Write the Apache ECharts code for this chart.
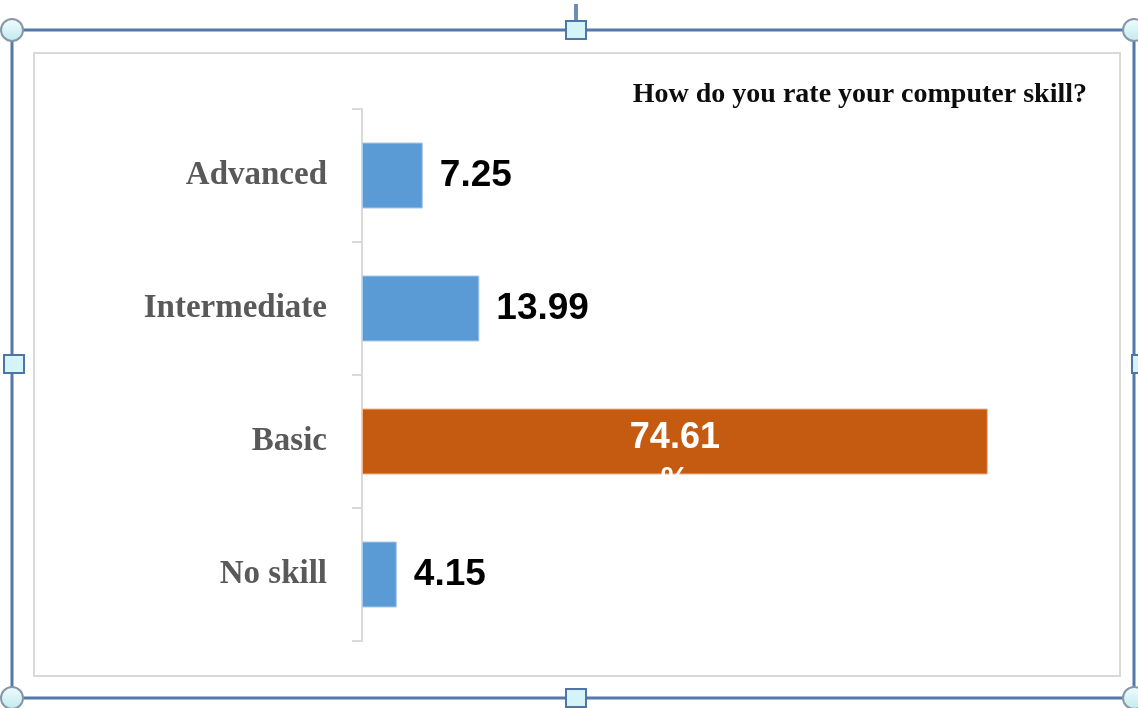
<!DOCTYPE html>
<html>
<head>
<meta charset="utf-8">
<script src="https://cdn.jsdelivr.net/npm/echarts@6/dist/echarts.min.js"></script>
<style>
  html, body { margin: 0; padding: 0; background: #ffffff; }
  #chart { width: 1138px; height: 708px; }
</style>
</head>
<body>
<div id="chart"></div>
<script>
// Survey answers: self-rated computer skill (percent of respondents)
const categories = ['Advanced', 'Intermediate', 'Basic', 'No skill'];
const shares = [7.25, 13.99, 74.61, 4.15];
const highlighted = 'Basic';
const titleText = 'How do you rate your computer skill?';

const BLUE = '#5b9bd5';
const ORANGE = '#c55a11';
const BAR_W = 66;
const SANS = 'Liberation Sans, Arial, sans-serif';
const SERIF = 'Liberation Serif, Times New Roman, serif';

const seriesData = categories.map((c, i) => {
  const item = { value: shares[i], name: c };
  if (c === highlighted) {
    item.itemStyle = { color: ORANGE, borderColor: '#f2b48c', borderWidth: 1 };
    item.label = {
      position: 'inside',
      offset: [0, 21],
      formatter: p => '{a|' + p.value.toFixed(2) + '}\n{b|%}',
      rich: {
        a: { fontSize: 36, fontWeight: 'bold', color: '#ffffff', fontFamily: SANS, lineHeight: 36 },
        b: { fontSize: 32, fontWeight: 'bold', color: '#ffffff', fontFamily: SANS, lineHeight: 48 }
      }
    };
  }
  return item;
});

// Selection frame drawn round the embedded chart
function handleCircle(cx, cy) {
  return {
    type: 'circle', z: 200,
    shape: { cx: cx, cy: cy, r: 11 },
    style: {
      fill: new echarts.graphic.LinearGradient(0, 0, 0, 1, [
        { offset: 0, color: '#f2fdfe' }, { offset: 1, color: '#bfe9ee' }
      ]),
      stroke: '#8797a8', lineWidth: 2
    }
  };
}
function handleSquare(cx, cy) {
  return {
    type: 'rect', z: 200,
    shape: { x: cx - 10, y: cy - 9, width: 20, height: 18 },
    style: { fill: '#d4f4f8', stroke: '#4f75a5', lineWidth: 2 }
  };
}

const frame = [
  { type: 'rect', z: 1, shape: { x: 34, y: 53, width: 1086, height: 623 },
    style: { fill: 'none', stroke: '#d9d9d9', lineWidth: 2 } },
  { type: 'rect', z: 150, shape: { x: 12, y: 30, width: 1122, height: 668 },
    style: { fill: 'none', stroke: '#5479a9', lineWidth: 3 } },
  { type: 'line', z: 150, shape: { x1: 576, y1: 4, x2: 576, y2: 22 },
    style: { stroke: '#6f8cb3', lineWidth: 4 } },
  handleCircle(12, 30), handleCircle(1134, 30),
  handleCircle(12, 698), handleCircle(1134, 698),
  handleSquare(576, 30), handleSquare(576, 698),
  handleSquare(14, 364), handleSquare(1142, 364)
];

const chart = echarts.init(document.getElementById('chart'), null, { renderer: 'canvas' });

chart.setOption({
  animation: false,
  backgroundColor: '#ffffff',
  title: {
    text: titleText,
    right: 46,
    top: 76,
    textStyle: { fontFamily: SERIF, fontWeight: 'bold', fontSize: 28, color: '#0d0d0d' }
  },
  grid: { left: 362, right: 105, top: 109, bottom: 67, containLabel: false },
  xAxis: { type: 'value', min: 0, max: 80, show: false },
  yAxis: {
    type: 'category',
    data: categories,
    inverse: true,
    axisLine: { show: true, lineStyle: { color: '#d9d9d9', width: 2 } },
    axisTick: { show: true, length: 10, lineStyle: { color: '#d9d9d9', width: 2 } },
    splitLine: { show: false },
    axisLabel: {
      margin: 35,
      padding: [4, 0, 0, 0],
      color: '#595959',
      fontFamily: SERIF,
      fontWeight: 'bold',
      fontSize: 33
    }
  },
  series: [{
    type: 'bar',
    barWidth: BAR_W,
    data: seriesData,
    itemStyle: { color: BLUE, borderColor: '#a9c9ea', borderWidth: 1 },
    label: {
      show: true,
      position: 'right',
      distance: 17,
      formatter: p => p.value.toFixed(2),
      fontFamily: SANS,
      fontWeight: 'bold',
      fontSize: 37,
      color: '#000000'
    }
  }],
  graphic: frame
});

// Hide the part of the highlighted label that falls below its bar
const hIdx = categories.indexOf(highlighted);
const cy = chart.convertToPixel({ yAxisIndex: 0 }, highlighted);
const cx = chart.convertToPixel({ xAxisIndex: 0 }, shares[hIdx] / 2);
chart.setOption({
  graphic: frame.concat([{
    type: 'rect', z: 100,
    shape: { x: cx - 50, y: cy + BAR_W / 2 + 0.5, width: 100, height: 30 },
    style: { fill: '#ffffff' }
  }])
});
</script>
</body>
</html>
